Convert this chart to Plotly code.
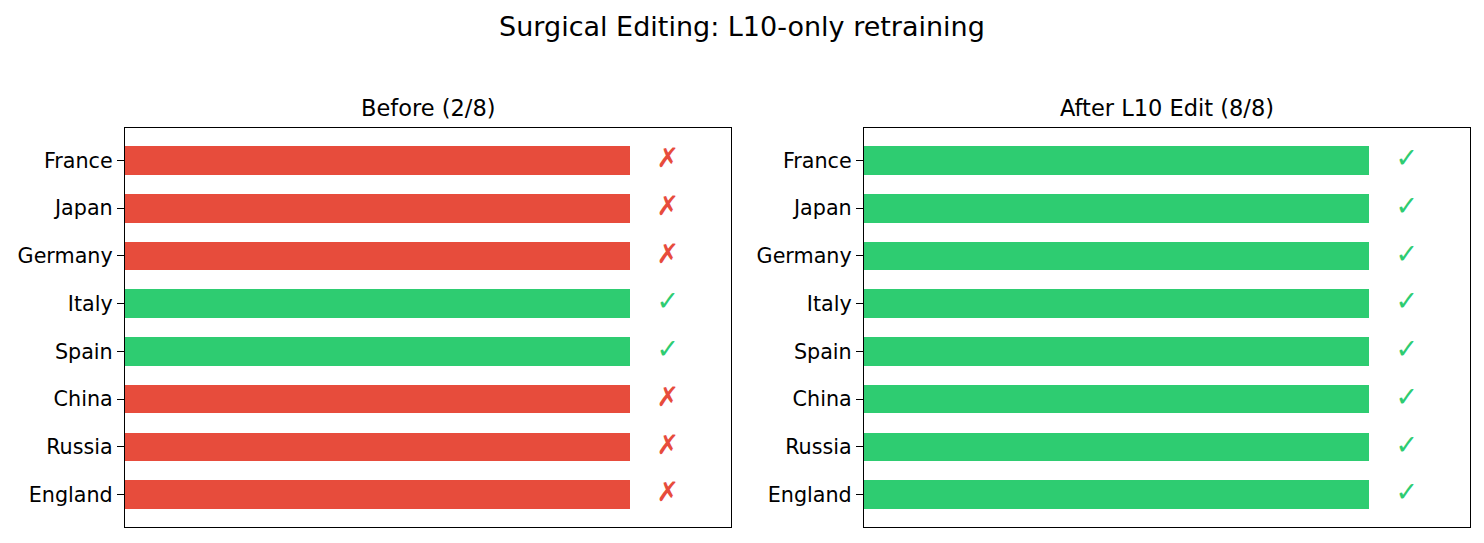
import plotly.graph_objects as go
from plotly.subplots import make_subplots

# Data
countries = ["France", "Japan", "Germany", "Italy", "Spain", "China", "Russia", "England"]
before_correct = [False, False, False, True, True, False, False, False]
after_correct = [True, True, True, True, True, True, True, True]
bar_values = [1, 1, 1, 1, 1, 1, 1, 1]

RED = "#e74c3c"
GREEN = "#2ecc71"
FONT = "DejaVu Sans"

W, H = 1484, 543
OFF = 8  # page body margin shifts the plot by this many pixels

fig = make_subplots(rows=1, cols=2)

panels = [(before_correct, 1), (after_correct, 2)]
for correct, col in panels:
    colours = [GREEN if c else RED for c in correct]
    fig.add_trace(go.Bar(
        x=bar_values, y=countries, orientation="h",
        marker=dict(color=colours, line=dict(width=0)),
        width=0.6, showlegend=False, hoverinfo="skip"
    ), row=1, col=col)
    # tick / cross markers next to each bar
    fig.add_trace(go.Scatter(
        x=[v + 0.075 for v in bar_values], y=countries, mode="text",
        text=["<b>✓</b>" if c else "<b>✗</b>" for c in correct],
        textfont=dict(family=FONT, size=27, color=colours),
        textposition="middle center", showlegend=False, hoverinfo="skip"
    ), row=1, col=col)

# Axes positions (pixels)
x_domains = [((125 - OFF) / W, (731 - OFF) / W), ((864 - OFF) / W, (1470 - OFF) / W)]
y_domain = [(H - (527 - OFF)) / H, (H - (128 - OFF)) / H]

for i, dom in enumerate(x_domains, start=1):
    fig.update_xaxes(
        domain=list(dom), range=[0, 1.2], showticklabels=False, ticks="",
        showgrid=False, zeroline=False, showline=True, mirror=True,
        linecolor="#000000", linewidth=1.3, automargin=False,
        row=1, col=i
    )
    fig.update_yaxes(
        domain=y_domain, range=[7.68, -0.68], type="category",
        showgrid=False, zeroline=False, showline=True, mirror=True,
        linecolor="#000000", linewidth=1.3, ticks="outside", ticklen=7,
        tickwidth=1.3, tickcolor="#000000", automargin=False,
        tickfont=dict(family=FONT, size=20.7, color="#000000"),
        row=1, col=i
    )

subtitles = ["Before (2/8)", "After L10 Edit (8/8)"]
for dom, txt in zip(x_domains, subtitles):
    fig.add_annotation(
        text=txt, xref="paper", yref="paper",
        x=(dom[0] + dom[1]) / 2, y=(H - (108 - OFF)) / H,
        showarrow=False, xanchor="center", yanchor="middle",
        font=dict(family=FONT, size=22.5, color="#000000")
    )

fig.update_layout(
    width=W, height=H,
    margin=dict(l=0, r=0, t=0, b=0),
    paper_bgcolor="white", plot_bgcolor="white",
    title=dict(
        text="Surgical Editing: L10-only retraining",
        x=(742 - OFF) / W, xanchor="center", y=(H - (27 - OFF)) / H, yanchor="middle",
        font=dict(family=FONT, size=27, color="#000000")
    ),
    bargap=0,
)

fig.write_html("out.html")
